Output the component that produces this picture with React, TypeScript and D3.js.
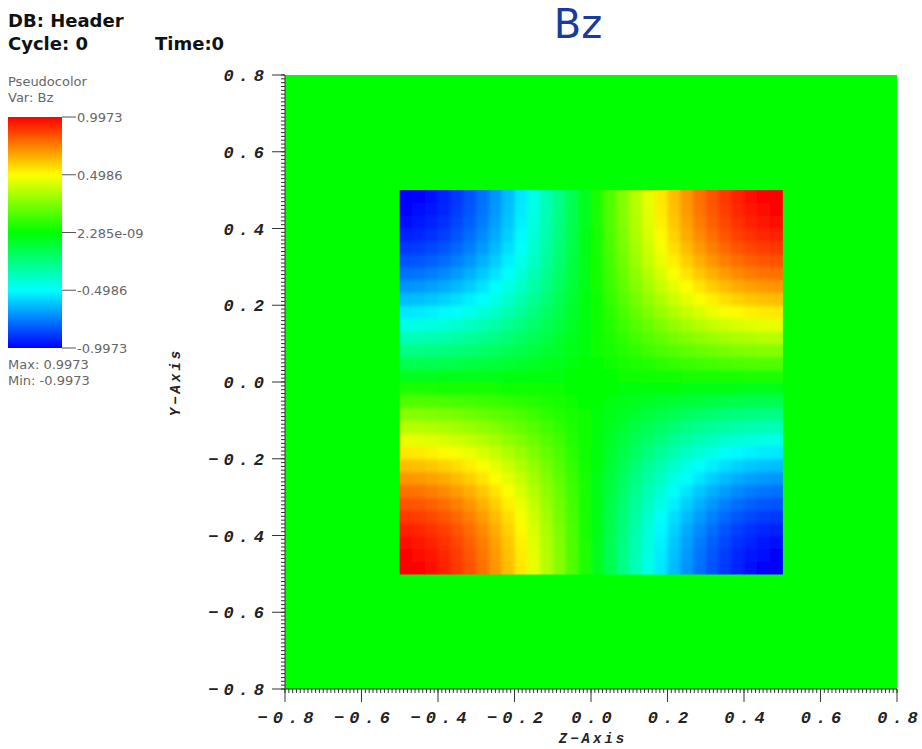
import React from "react";
import * as d3 from "d3";

// Bz profile along each axis, 30 zone-centred cells spanning [-0.5, 0.5]
const zProfile = [
  -0.9986, -0.9877, -0.9659, -0.9336, -0.891, -0.8387, -0.7771, -0.7071, -0.6293, -0.5446,
  -0.454, -0.3584, -0.2588, -0.1564, -0.0523, 0.0523, 0.1564, 0.2588, 0.3584, 0.454,
  0.5446, 0.6293, 0.7071, 0.7771, 0.8387, 0.891, 0.9336, 0.9659, 0.9877, 0.9986,
];
const yProfile = zProfile;
const squareExtent = [-0.5, 0.5];
const axisTicks = [-0.8, -0.6, -0.4, -0.2, 0.0, 0.2, 0.4, 0.6, 0.8];
const legendValues = [0.9973, 0.4986, 2.285e-9, -0.4986, -0.9973];
const legendLabels = ["0.9973", "0.4986", "2.285e-09", "-0.4986", "-0.9973"];
const dataMax = 0.9973;
const dataMin = -0.9973;
const hotColors = ["#0000ff", "#00ffff", "#00ff00", "#ffff00", "#ff0000"];

const W = 922;
const H = 749;
const plot = { x0: 285, x1: 897, y0: 75, y1: 689 };

export default function App() {
  const x = d3.scaleLinear().domain([-0.8, 0.8]).range([plot.x0, plot.x1]);
  const y = d3.scaleLinear().domain([-0.8, 0.8]).range([plot.y1, plot.y0]);
  const color = d3
    .scaleLinear<string>()
    .domain(d3.range(5).map((i) => dataMin + (i * (dataMax - dataMin)) / 4))
    .range(hotColors)
    .interpolate(d3.interpolateRgb)
    .clamp(true);

  const n = zProfile.length;
  const edge = d3.scaleLinear().domain([0, n]).range(squareExtent);

  const cells: { i: number; j: number; v: number }[] = [];
  for (let j = 0; j < yProfile.length; j++)
    for (let i = 0; i < n; i++) cells.push({ i, j, v: zProfile[i] * yProfile[j] });

  const minorTicks = d3.range(-80, 81).map((k) => k / 100);
  const lg = d3.scaleLinear().domain([dataMax, dataMin]).range([117, 348]);
  const gradStops = d3.range(0, 1.0001, 0.05);

  const tickFont = {
    fontFamily: "'Liberation Mono', 'DejaVu Sans Mono', monospace",
    fontWeight: "bold" as const,
    fontStyle: "italic" as const,
    fontSize: 17,
    letterSpacing: 5,
    fill: "#222",
  };
  const fmt = (v: number) => (Math.abs(v) < 1e-9 ? "0.0" : v.toFixed(1)).replace("-", "\u2212");

  const cellRects = (pref: string) =>
    cells.map((c) => {
      const xa = x(edge(c.i));
      const xb = x(edge(c.i + 1));
      const ya = y(edge(c.j + 1));
      const yb = y(edge(c.j));
      return (
        <rect
          key={pref + c.i + "-" + c.j}
          x={xa}
          y={ya}
          width={xb - xa + 0.6}
          height={yb - ya + 0.6}
          fill={color(c.v)}
        />
      );
    });

  const sx0 = x(squareExtent[0]);
  const sx1 = x(squareExtent[1]);
  const sy0 = y(squareExtent[1]);
  const sy1 = y(squareExtent[0]);

  return (
    <svg width={W} height={H} style={{ position: "absolute", left: 0, top: 0, background: "#fff" }}>
      <defs>
        <linearGradient id="cb" x1="0" y1="0" x2="0" y2="1">
          {gradStops.map((t) => (
            <stop key={t} offset={t} stopColor={color(dataMax - t * (dataMax - dataMin))} />
          ))}
        </linearGradient>
        <filter id="soft" x="-5%" y="-5%" width="110%" height="110%">
          <feGaussianBlur stdDeviation={2.2} />
        </filter>
        <clipPath id="sq">
          <rect x={sx0} y={sy0} width={sx1 - sx0} height={sy1 - sy0} />
        </clipPath>
      </defs>

      {/* header text */}
      <g fontFamily="'DejaVu Sans', sans-serif" fontWeight="bold" fontSize={18} fill="#111">
        <text x={8} y={27}>DB: Header</text>
        <text x={8} y={50}>Cycle: 0</text>
        <text x={155} y={50}>Time:0</text>
      </g>
      <text x={578} y={38} textAnchor="middle" fontFamily="'DejaVu Sans', sans-serif" fontSize={40} fill="#1a3a9c">
        Bz
      </text>

      {/* legend */}
      <g fontFamily="'DejaVu Sans', sans-serif" fontSize={13} fill="#666">
        <text x={8} y={86}>Pseudocolor</text>
        <text x={8} y={102}>Var: Bz</text>
        <rect x={8} y={117} width={54} height={231} fill="url(#cb)" />
        {legendValues.map((v, k) => (
          <g key={k}>
            <line x1={62} x2={76} y1={lg(v)} y2={lg(v)} stroke="#555" strokeWidth={1} />
            <text x={77} y={lg(v) + 5}>{legendLabels[k]}</text>
          </g>
        ))}
        <text x={8} y={369}>Max: 0.9973</text>
        <text x={8} y={385}>Min: -0.9973</text>
      </g>

      {/* plot background (zero field) */}
      <rect x={plot.x0} y={plot.y0} width={plot.x1 - plot.x0} height={plot.y1 - plot.y0} fill={color(0)} />
      <g>{cellRects("a")}</g>
      <g clipPath="url(#sq)">
        <g filter="url(#soft)">{cellRects("b")}</g>
      </g>

      {/* axes */}
      <g stroke="#333" strokeWidth={1}>
        <line x1={plot.x0} x2={plot.x0} y1={plot.y0} y2={plot.y1 + 1} />
        <line x1={plot.x0} x2={plot.x1} y1={plot.y1} y2={plot.y1} />
        {minorTicks.map((t) => (
          <g key={t}>
            <line x1={plot.x0 - 4} x2={plot.x0} y1={y(t)} y2={y(t)} />
            <line x1={x(t)} x2={x(t)} y1={plot.y1} y2={plot.y1 + 4} />
          </g>
        ))}
        {axisTicks.map((t) => (
          <g key={"M" + t}>
            <line x1={plot.x0 - 13} x2={plot.x0} y1={y(t)} y2={y(t)} />
            <line x1={x(t)} x2={x(t)} y1={plot.y1} y2={plot.y1 + 13} />
          </g>
        ))}
      </g>
      <g style={tickFont}>
        {axisTicks.map((t) => (
          <text key={"y" + t} x={269} y={y(t) + 6} textAnchor="end">
            {fmt(t)}
          </text>
        ))}
        {axisTicks.map((t) => (
          <text key={"x" + t} x={x(t) + 3} y={723} textAnchor="middle">
            {fmt(t)}
          </text>
        ))}
      </g>
      <g style={{ ...tickFont, fontSize: 14, letterSpacing: 3 }}>
        <text x={x(0) + 2} y={743} textAnchor="middle">Z{"\u2212"}Axis</text>
        <text transform={`translate(180, ${y(0)}) rotate(-90)`} textAnchor="middle">
          Y{"\u2212"}Axis
        </text>
      </g>
    </svg>
  );
}
